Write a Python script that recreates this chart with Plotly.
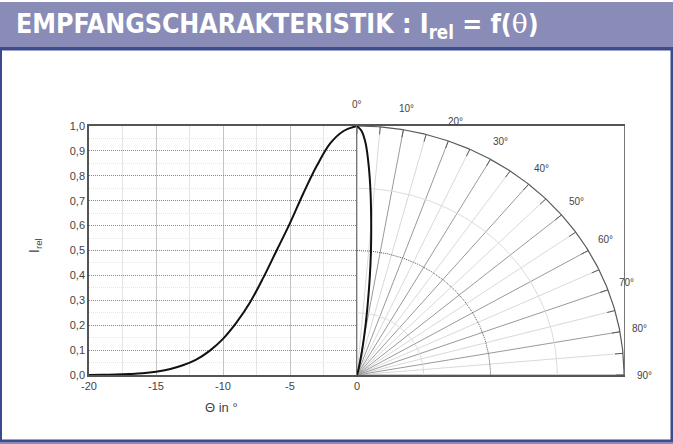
import numpy as np
import plotly.graph_objects as go

# ---- data ----
theta_deg = [-20, -19, -18, -17, -16, -15, -14, -13, -12, -11, -10,
             -9, -8, -7, -6, -5, -4, -3, -2, -1, 0]
i_rel = [0.000, 0.001, 0.002, 0.004, 0.007, 0.013, 0.023, 0.039, 0.062, 0.097, 0.145,
         0.21, 0.29, 0.39, 0.50, 0.61, 0.73, 0.84, 0.93, 0.98, 1.00]

x_ticks = [-20, -15, -10, -5, 0]
x_ticktext = ["-20", "-15", "-10", "-5", "0"]
y_ticks = [0.0, 0.1, 0.2, 0.3, 0.4, 0.5, 0.6, 0.7, 0.8, 0.9, 1.0]
y_ticktext = ["0,0", "0,1", "0,2", "0,3", "0,4", "0,5", "0,6", "0,7", "0,8", "0,9", "1,0"]
polar_label_angles = [0, 10, 20, 30, 40, 50, 60, 70, 80, 90]
polar_grid_angles = list(range(0, 91, 5))
polar_arcs = [0.25, 0.5, 0.75, 1.0]

W, H = 673, 444
def px(x):
    return x / W
def py(y):
    return 1 - y / H

PLOT_L, PLOT_M, PLOT_R = 89, 357, 624
PLOT_T, PLOT_B = 126, 375

fig = go.Figure()

# ---- polar grid (x2 / y2) ----
rx, ry = [], []
for a in polar_grid_angles:
    if a % 10 == 0:
        continue
    t = np.radians(a)
    rx += [0, np.sin(t), None]
    ry += [0, np.cos(t), None]
fig.add_trace(go.Scatter(x=rx, y=ry, xaxis="x2", yaxis="y2", mode="lines",
                         line=dict(color="#d9d9d9", width=1), hoverinfo="skip", showlegend=False))
rx, ry = [], []
for a in polar_grid_angles:
    if a % 10 != 0:
        continue
    t = np.radians(a)
    rx += [0, np.sin(t), None]
    ry += [0, np.cos(t), None]
fig.add_trace(go.Scatter(x=rx, y=ry, xaxis="x2", yaxis="y2", mode="lines",
                         line=dict(color="#9a9a9a", width=1), hoverinfo="skip", showlegend=False))

arc_t = np.radians(np.linspace(0, 90, 181))
for r in polar_arcs:
    if r == 1.0:
        st = dict(color="#5a5a5a", width=1.2)
    elif r == 0.5:
        st = dict(color="#555555", width=1, dash="1px,1px")
    else:
        st = dict(color="#dcdcdc", width=1)
    fig.add_trace(go.Scatter(x=r * np.sin(arc_t), y=r * np.cos(arc_t), xaxis="x2", yaxis="y2",
                             mode="lines", line=st, hoverinfo="skip", showlegend=False))
# small ticks on the outer arc
tx, ty = [], []
for a in polar_grid_angles:
    t = np.radians(a)
    tx += [0.97 * np.sin(t), np.sin(t), None]
    ty += [0.97 * np.cos(t), np.cos(t), None]
fig.add_trace(go.Scatter(x=tx, y=ty, xaxis="x2", yaxis="y2", mode="lines",
                         line=dict(color="#5a5a5a", width=1), hoverinfo="skip", showlegend=False))

# ---- cartesian curve ----
fig.add_trace(go.Scatter(x=theta_deg, y=i_rel, mode="lines",
                         line=dict(color="#111111", width=2, shape="spline", smoothing=1.0),
                         cliponaxis=False, hoverinfo="skip", showlegend=False))

# ---- polar curve (same data, plotted as r = I_rel at angle |theta|) ----
ang = np.radians(np.abs(np.array(theta_deg[::-1], dtype=float)))
rr = np.array(i_rel[::-1])
fig.add_trace(go.Scatter(x=rr * np.sin(ang), y=rr * np.cos(ang), xaxis="x2", yaxis="y2",
                         mode="lines", line=dict(color="#111111", width=2, shape="spline", smoothing=0.8),
                         cliponaxis=False, hoverinfo="skip", showlegend=False))

tickfont = dict(family="Liberation Sans, Arial, sans-serif", size=11, color="#444444")

annotations = []
for a in polar_label_angles:
    t = np.radians(a)
    annotations.append(dict(x=1.075 * np.sin(t), y=1.085 * np.cos(t), xref="x2 domain", yref="y2 domain",
                            text=f"{a}°", showarrow=False, xanchor="center", yanchor="middle",
                            font=dict(family="Liberation Sans, Arial, sans-serif", size=10, color="#444444")))

annotations.append(dict(x=px(14), y=py(26), xref="paper", yref="paper", xanchor="left", yanchor="middle",
                        showarrow=False,
                        text="<b>EMPFANGSCHARAKTERISTIK : I<sub>rel</sub> = f(<span style='font-family:DejaVu Serif;font-weight:normal'>θ</span>)</b>",
                        font=dict(family="DejaVu Sans Condensed, Liberation Sans Narrow, Liberation Sans, sans-serif",
                                  size=26.5, color="white")))
annotations.append(dict(x=px(35), y=py(246), xref="paper", yref="paper", xanchor="center", yanchor="middle",
                        showarrow=False, textangle=-90, text="I<sub>rel</sub>",
                        font=dict(family="Liberation Sans, Arial, sans-serif", size=14, color="#444444")))
annotations.append(dict(x=px(221), y=py(407), xref="paper", yref="paper", xanchor="center", yanchor="middle",
                        showarrow=False, text="Θ in °",
                        font=dict(family="Liberation Sans, Arial, sans-serif", size=13, color="#444444")))

shapes = [
    dict(type="rect", xref="paper", yref="paper", x0=0, x1=1, y0=py(47), y1=py(2),
         fillcolor="#8a8cb8", line=dict(width=0), layer="below"),
    dict(type="rect", xref="paper", yref="paper", x0=0, x1=1, y0=py(50.5), y1=py(47),
         fillcolor="#3d4a8d", line=dict(width=0), layer="below"),
    dict(type="rect", xref="paper", yref="paper", x0=0, x1=px(2), y0=py(442), y1=py(50),
         fillcolor="#3d4a8d", line=dict(width=0), layer="below"),
    dict(type="rect", xref="paper", yref="paper", x0=px(670.5), x1=1, y0=py(442), y1=py(50),
         fillcolor="#3d4a8d", line=dict(width=0), layer="below"),
    dict(type="rect", xref="paper", yref="paper", x0=0, x1=1, y0=py(442), y1=py(439.5),
         fillcolor="#3d4a8d", line=dict(width=0), layer="below"),
    dict(type="rect", xref="paper", yref="paper", x0=0, x1=1, y0=0, y1=py(442),
         fillcolor="#8a8cb8", line=dict(width=0), layer="below"),
]

fig.update_layout(
    width=W, height=H, margin=dict(l=0, r=0, t=0, b=0),
    paper_bgcolor="white", plot_bgcolor="rgba(0,0,0,0)",
    showlegend=False,
    xaxis=dict(domain=[px(PLOT_L), px(PLOT_M)], range=[-20, 0], anchor="y",
               tickvals=x_ticks, ticktext=x_ticktext, tickfont=tickfont, ticks="",
               showgrid=True, gridcolor="#c4c4c4", gridwidth=1, zeroline=False,
               minor=dict(tickvals=[-17.5, -12.5, -7.5, -2.5], showgrid=True, gridcolor="#e4e4e4"),
               showline=True, linecolor="#555555", linewidth=1.5, mirror=True,
               automargin=False, fixedrange=True),
    yaxis=dict(domain=[py(PLOT_B), py(PLOT_T)], range=[0, 1], anchor="x",
               tickvals=y_ticks, ticktext=y_ticktext, tickfont=tickfont, ticks="",
               showgrid=True, gridcolor="#8a8a8a", gridwidth=1, griddash="1px,1px", zeroline=False,
               minor=dict(tickvals=[0.05, 0.15, 0.25, 0.35, 0.45, 0.55, 0.65, 0.75, 0.85, 0.95],
                          showgrid=True, gridcolor="#e6e6e6"),
               showline=True, linecolor="#555555", linewidth=1.5, mirror=False,
               automargin=False, fixedrange=True),
    xaxis2=dict(domain=[px(PLOT_M), px(PLOT_R)], range=[0, 1], anchor="y2",
                showgrid=False, zeroline=False, showticklabels=False, ticks="",
                showline=True, linecolor="#555555", linewidth=1.5, mirror=True,
                automargin=False, fixedrange=True),
    yaxis2=dict(domain=[py(PLOT_B), py(PLOT_T)], range=[0, 1], anchor="x2",
                showgrid=False, zeroline=False, showticklabels=False, ticks="",
                showline=True, linecolor="#777777", linewidth=1, mirror=True,
                automargin=False, fixedrange=True),
    annotations=annotations, shapes=shapes,
)

fig.write_html("out.html", config={"displayModeBar": False},
               post_script="document.body.style.margin='0';document.body.style.overflow='hidden';")
